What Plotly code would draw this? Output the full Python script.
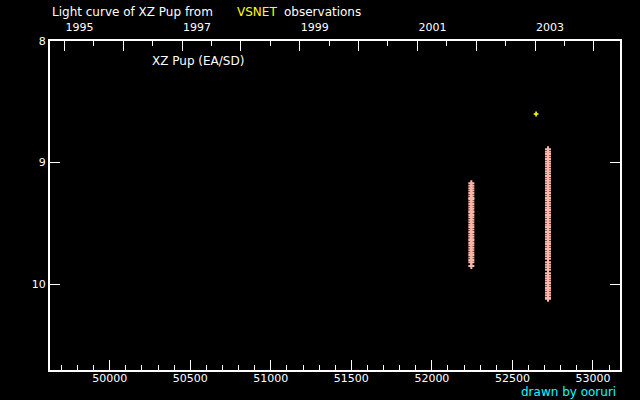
import plotly.graph_objects as go

# Data (JD - 2400000, visual magnitude)
jd_group1 = 52245
mag_group1 = [9.17, 9.19, 9.21, 9.23, 9.25, 9.27, 9.29, 9.30, 9.32, 9.34, 9.36, 9.38,
              9.40, 9.41, 9.43, 9.45, 9.47, 9.49, 9.51, 9.53, 9.55, 9.57, 9.59, 9.61,
              9.63, 9.64, 9.66, 9.68, 9.70, 9.72, 9.74, 9.76, 9.78, 9.80, 9.82, 9.85]
jd_group2 = 52721
mag_group2 = [8.89, 8.91, 8.93, 8.95, 8.97, 8.99, 9.01, 9.03, 9.05, 9.07, 9.09, 9.11,
              9.13, 9.15, 9.17, 9.19, 9.21, 9.23, 9.25, 9.27, 9.29, 9.31, 9.33, 9.35,
              9.37, 9.39, 9.41, 9.43, 9.45, 9.47, 9.49, 9.51, 9.53, 9.55, 9.57, 9.59,
              9.61, 9.63, 9.65, 9.67, 9.69, 9.71, 9.73, 9.75, 9.77, 9.79, 9.82, 9.84,
              9.86, 9.88, 9.91, 9.93, 9.95, 9.97, 9.99, 10.01, 10.03, 10.05, 10.07,
              10.09, 10.11, 10.12]
jd_yellow = [52647]
mag_yellow = [8.60]

x_range = [49629, 53168]
y_range = [10.705, 8.0]
y_ticks = [8, 9, 10]
year_ticks = list(range(1995, 2005))
year_labels = [str(y) if y % 2 == 1 else "" for y in year_ticks]
jd_ticks = [50000, 50500, 51000, 51500, 52000, 52500, 53000]
jd_labels = [str(v) for v in jd_ticks]

JD_1995 = 49718.5
yr_range = [1995 + (x_range[0] - JD_1995) / 365.25, 1995 + (x_range[1] - JD_1995) / 365.25]

pink = "#ffb6a8"
font = dict(family="DejaVu Sans", size=11, color="white")
tfont = dict(family="DejaVu Sans", size=12, color="white")

fig = go.Figure()
fig.add_trace(go.Scatter(x=[jd_group1] * len(mag_group1), y=mag_group1, mode="markers",
                         marker=dict(symbol="cross", size=5, color=pink), showlegend=False))
fig.add_trace(go.Scatter(x=[jd_group2] * len(mag_group2), y=mag_group2, mode="markers",
                         marker=dict(symbol="cross", size=5, color=pink), showlegend=False))
fig.add_trace(go.Scatter(x=jd_yellow, y=mag_yellow, mode="markers",
                         marker=dict(symbol="cross", size=4, color="yellow"), showlegend=False))
# invisible trace to activate the top axis
fig.add_trace(go.Scatter(x=yr_range, y=[9, 9], xaxis="x2", mode="markers",
                         marker=dict(opacity=0), showlegend=False, hoverinfo="skip"))

fig.update_layout(
    width=640, height=400,
    margin=dict(l=50, r=20, t=41, b=30, autoexpand=False),
    paper_bgcolor="black", plot_bgcolor="black",
    font=font,
    xaxis=dict(range=x_range, tickvals=jd_ticks, ticktext=jd_labels, ticks="inside",
               ticklen=10, tickwidth=1, automargin=False, ticklabelstandoff=-3,
               tickcolor="white", showline=True, linecolor="white", linewidth=2, mirror=True,
               showgrid=False, zeroline=False, tickfont=font,
               minor=dict(dtick=100, tick0=50000, ticks="inside", ticklen=5, tickcolor="white")),
    xaxis2=dict(range=yr_range, overlaying="x", side="top", tickvals=year_ticks,
                ticktext=year_labels, ticks="inside", ticklen=10, tickcolor="white",
                automargin=False, ticklabelstandoff=7, ticklabelshift=15,
                showgrid=False, zeroline=False, tickfont=font, showline=False,
                minor=dict(dtick=0.5, tick0=1995, ticks="inside", ticklen=5, tickcolor="white")),
    yaxis=dict(range=y_range, tickvals=y_ticks, ticks="inside", ticklen=10, tickcolor="white",
               showline=True, linecolor="white", linewidth=2, mirror="ticks", automargin=False,
               showgrid=False, zeroline=False, tickfont=font),
    annotations=[
        dict(text="Light curve of XZ Pup from", x=0.0, y=1.0, yshift=29, xref="paper",
             yref="paper", showarrow=False, font=tfont, xanchor="left", yanchor="middle"),
        dict(text="VSNET", x=0.0, xshift=185, y=1.0, yshift=29, xref="paper",
             yref="paper", showarrow=False, font=dict(family="DejaVu Sans", size=12, color="yellow"),
             xanchor="left", yanchor="middle"),
        dict(text="observations", x=0.0, xshift=232, y=1.0, yshift=29, xref="paper",
             yref="paper", showarrow=False, font=tfont, xanchor="left", yanchor="middle"),
        dict(text="XZ Pup (EA/SD)", x=0.175, y=0.94, xref="paper", yref="paper",
             showarrow=False, font=tfont, xanchor="left", yanchor="middle"),
        dict(text="drawn by ooruri", x=1.0, y=0.0, yshift=-22, xshift=-2, xref="paper", yref="paper",
             showarrow=False, font=dict(family="DejaVu Sans", size=12, color="cyan"),
             xanchor="right", yanchor="middle"),
    ],
)
fig.write_html("out.html", config={"displayModeBar": False},
               post_script="document.body.style.margin='0';document.body.style.background='black';")
